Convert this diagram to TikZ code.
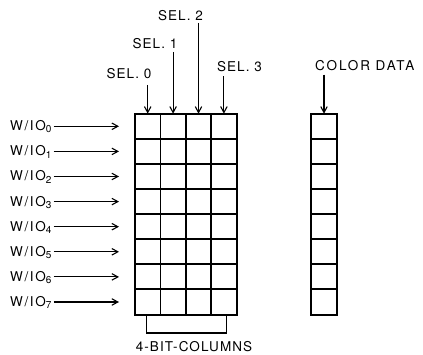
\documentclass[tikz,border=0pt]{standalone}
\usepackage{fontspec}
\setmainfont{TeX Gyre Heros}[LetterSpace=8]
\usetikzlibrary{arrows.meta}
\newcommand{\dsub}[1]{\raisebox{-2.2pt}{\fontsize{10}{10}\selectfont #1}}
\begin{document}
\begin{tikzpicture}[x=1pt,y=-1pt,
  cell/.style={draw,line width=1.8pt,minimum width=25.4pt,minimum height=25.25pt,inner sep=0pt,outer sep=0pt},
  lbl/.style={inner sep=0pt,font=\fontsize{13.5}{13.5}\selectfont},
  arr/.style={line width=1.1pt,-{Straight Barb[length=6pt,width=6.5pt,line width=1.1pt]}}]
\useasboundingbox (0,0) rectangle (423,355);
% grid and colour column
\foreach \r in {0,...,7} {
  \foreach \c in {0,...,3} {
    \node[cell] (c-\c-\r) at ({147.7+25.4*\c},{126.3+25.1*\r}) {};
  }
  \node[cell,minimum width=26pt] (d-\r) at (324,{126.3+25.1*\r}) {};
  % row labels
  \node[lbl,anchor=base west] (w\r) at (10,{130.8+25.1*\r}) {\addfontfeature{LetterSpace=12}W/IO\dsub{\r}};
  \coordinate (e\r) at ([xshift=-16pt]c-0-\r.west);
  \draw[arr] ([xshift=2pt]w\r.east |- c-0-\r) -- (e\r);
}
% select labels
\node[lbl,anchor=base] (s0) at (129,78.3) {SEL. 0};
\node[lbl,anchor=base] (s1) at (155,48.3) {SEL. 1};
\node[lbl,anchor=base] (s2) at (180.5,20.5) {SEL. 2};
\node[lbl,anchor=base] (s3) at (239.5,71.5) {SEL. 3};
\draw[arr] ([yshift=-6.5pt]s0.base -| c-0-0) -- (c-0-0.north);
\draw[arr] ([yshift=-3.5pt]s1.base -| c-1-0) -- (c-1-0.north);
\draw[arr] ([yshift=-2.5pt]s2.base -| c-2-0) -- (c-2-0.north);
\draw[arr] ([yshift=-5pt]s3.base -| c-3-0) -- (c-3-0.north);
% colour data
\node[lbl,anchor=base west] (cd) at (315,70.7) {\addfontfeature{LetterSpace=14}COLOR DATA};
\draw[arr] ([yshift=-4pt]cd.base -| d-0) -- (d-0.north);
% bracket
\coordinate (b1) at ([xshift=11.7pt]c-0-7.south west);
\coordinate (b2) at ([xshift=-10pt]c-3-7.south east);
\draw[line width=1.4pt] (b1) -- ++(0,18.3) -| (b2);
\node[lbl,anchor=base] (bc) at (194,351.5) {4-BIT-COLUMNS};
\end{tikzpicture}
\end{document}
